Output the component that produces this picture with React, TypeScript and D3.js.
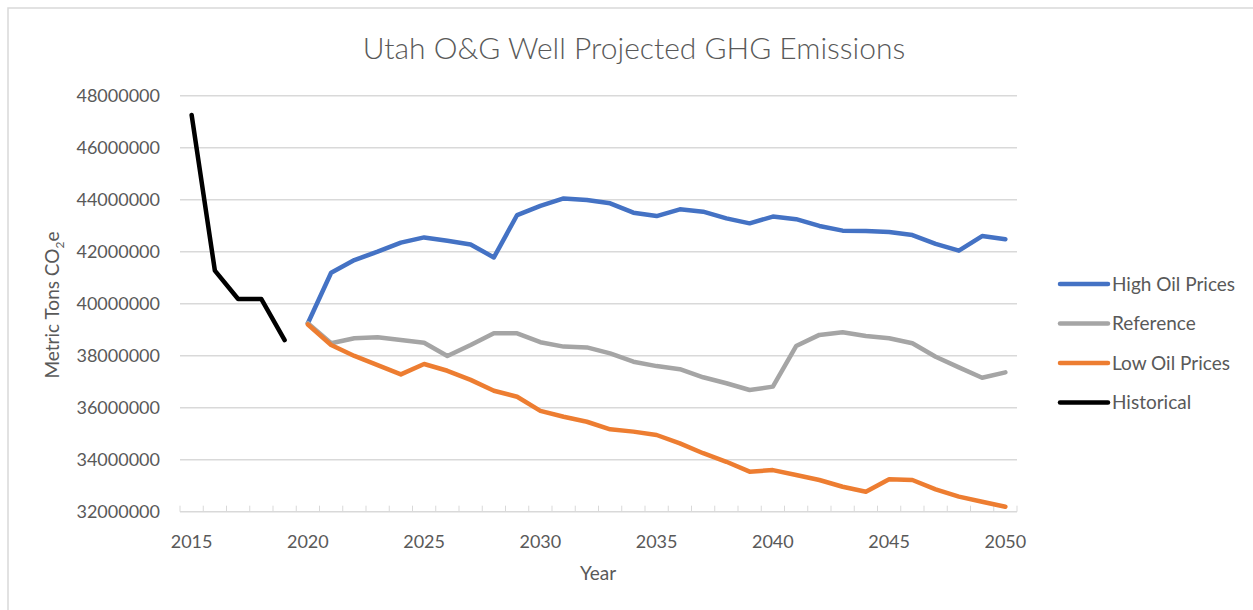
import React from "react";
import * as d3 from "d3";

// categories
const years = d3.range(2015, 2051);
const labelYears = [2015, 2020, 2025, 2030, 2035, 2040, 2045, 2050];
const yTicks = [32000000, 34000000, 36000000, 38000000, 40000000, 42000000, 44000000, 46000000, 48000000];

// series (metric tons CO2e)
const historicalYears = [2015, 2016, 2017, 2018, 2019];
const historical = [47260000, 41270000, 40180000, 40180000, 38600000];

const projYears = d3.range(2020, 2051);
const highOil = [
  39250000, 41190000, 41680000, 42000000, 42350000, 42550000, 42420000, 42280000, 41780000, 43410000,
  43760000, 44050000, 43990000, 43860000, 43500000, 43370000, 43630000, 43540000, 43280000, 43090000,
  43350000, 43250000, 42990000, 42810000, 42800000, 42760000, 42640000, 42300000, 42040000, 42600000,
  42480000,
];
const reference = [
  39250000, 38480000, 38670000, 38710000, 38600000, 38500000, 37990000, 38410000, 38860000, 38860000,
  38520000, 38350000, 38320000, 38090000, 37770000, 37600000, 37480000, 37170000, 36940000, 36680000,
  36810000, 38370000, 38800000, 38900000, 38760000, 38670000, 38480000, 37960000, 37550000, 37150000,
  37360000,
];
const lowOil = [
  39200000, 38410000, 37990000, 37640000, 37280000, 37680000, 37420000, 37070000, 36650000, 36420000,
  35880000, 35650000, 35460000, 35170000, 35080000, 34950000, 34630000, 34250000, 33920000, 33540000,
  33600000, 33410000, 33220000, 32960000, 32770000, 33250000, 33220000, 32860000, 32580000, 32380000,
  32190000,
];

const seriesNames = ["High Oil Prices", "Reference", "Low Oil Prices", "Historical"];
const seriesColors = ["#4472C4", "#A5A5A5", "#ED7D31", "#000000"];

const W = 1253,
  H = 610;
const plot = { left: 180, right: 1017, top: 95.7, bottom: 511.7 };
const textColor = "#595959";
const font = "Lato, 'Open Sans', sans-serif";

type Pt = { year: number; value: number };

const App: React.FC = () => {
  const x = d3.scaleBand<number>().domain(years).range([plot.left, plot.right]);
  const cx = (yr: number) => x(yr)! + x.bandwidth() / 2;
  const y = d3.scaleLinear().domain([32000000, 48000000]).range([plot.bottom, plot.top]);

  const line = d3
    .line<Pt>()
    .x((d) => cx(d.year))
    .y((d) => y(d.value));

  const toPts = (ys: number[], vs: number[]) => ys.map((yr, i) => ({ year: yr, value: vs[i] }));
  const series = [
    toPts(projYears, highOil),
    toPts(projYears, reference),
    toPts(projYears, lowOil),
    toPts(historicalYears, historical),
  ];
  const drawOrder = [3, 0, 1, 2];

  const tickXs = years.map((yr) => x(yr)!).concat([plot.right]);

  return (
    <svg
      width={W}
      height={H}
      style={{ position: "absolute", left: 0, top: 0, background: "#fff" }}
      fontFamily={font}
    >
      <rect x={8} y={8} width={W + 20} height={H + 20} fill="#fff" stroke="#D9D9D9" strokeWidth={1.5} />

      <text x={634} y={59} textAnchor="middle" fontSize={30} fill={textColor} fontWeight={300}>
        Utah O&amp;G Well Projected GHG Emissions
      </text>

      {yTicks.map((t) => (
        <g key={t}>
          {t !== 32000000 && (
            <line x1={plot.left} x2={plot.right} y1={y(t)} y2={y(t)} stroke="#D9D9D9" strokeWidth={1.5} />
          )}
          <text x={160} y={y(t)} dy="0.35em" textAnchor="end" fontSize={18} fill={textColor}>
            {t}
          </text>
        </g>
      ))}

      <line x1={plot.left} x2={plot.right} y1={plot.bottom} y2={plot.bottom} stroke="#D9D9D9" strokeWidth={1.5} />
      {tickXs.map((tx, i) => (
        <line key={i} x1={tx} x2={tx} y1={plot.bottom} y2={plot.bottom - 6} stroke="#D9D9D9" strokeWidth={1} />
      ))}
      {labelYears.map((yr) => (
        <text key={yr} x={cx(yr)} y={548} textAnchor="middle" fontSize={18} fill={textColor}>
          {yr}
        </text>
      ))}

      <text x={598} y={580} textAnchor="middle" fontSize={19} fill={textColor}>
        Year
      </text>
      <text
        transform="translate(59,305) rotate(-90)"
        textAnchor="middle"
        fontSize={19}
        fill={textColor}
      >
        Metric Tons CO<tspan fontSize={12} dy={5}>2</tspan>
        <tspan dy={-5}>e</tspan>
      </text>

      {drawOrder.map((i) => (
        <path
          key={i}
          d={line(series[i])!}
          fill="none"
          stroke={seriesColors[i]}
          strokeWidth={4.5}
          strokeLinejoin="round"
          strokeLinecap="round"
        />
      ))}

      {seriesNames.map((name, i) => {
        const ly = 284 + i * 39.5;
        return (
          <g key={name}>
            <line x1={1060} x2={1108} y1={ly} y2={ly} stroke={seriesColors[i]} strokeWidth={4.5} strokeLinecap="round" />
            <text x={1112} y={ly} dy="0.35em" fontSize={19} fill={textColor}>
              {name}
            </text>
          </g>
        );
      })}
    </svg>
  );
};

export default App;
